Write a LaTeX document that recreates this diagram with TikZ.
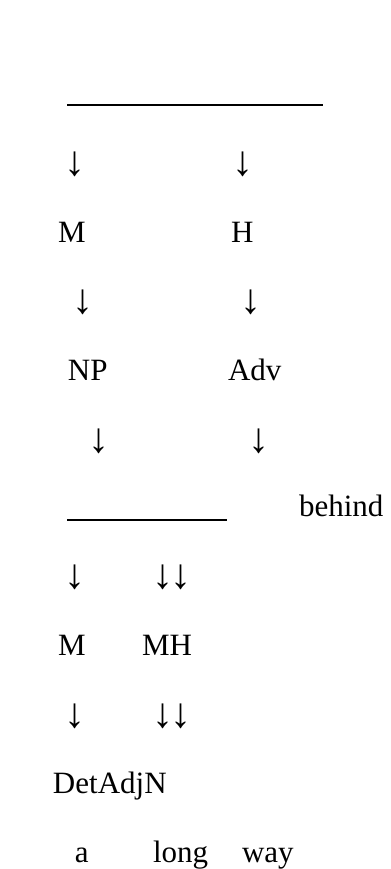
\documentclass[tikz,border=0pt]{standalone}
\usepackage{fontspec}
\setmainfont{Liberation Serif}
\begin{document}
\begin{tikzpicture}[x=0.5pt,y=-0.5pt,
  lbl/.style={anchor=base west,inner sep=0pt,outer sep=0pt,font=\fontsize{15.5}{18}\selectfont},
  arr/.style={anchor=base,inner sep=0pt,outer sep=0pt,font=\fontsize{21}{24}\selectfont},
  rulel/.style={line width=1pt,line cap=butt}]
\useasboundingbox (0,0) rectangle (391,869);
% top rule
\coordinate (l1a) at (67,105);
\coordinate (l1b) at (323,105);
\draw[rulel] (l1a) -- (l1b);
% arrows row 1
\node[arr] (a1l) at (75,175) {↓};
\node[arr] (a1r) at (243,175) {↓};
% M H
\node[lbl] (m1) at (58,242) {M};
\node[lbl] (h1) at (231,242) {H};
% arrows row 2
\node[arr] (a2l) at (83,313) {↓};
\node[arr] (a2r) at (251,313) {↓};
% NP Adv
\node[lbl] (np) at (68,380) {NP};
\node[lbl] (adv) at (228,380) {Adv};
% arrows row 3
\node[arr] (a3l) at (99,452) {↓};
\node[arr] (a3r) at (259,452) {↓};
% second rule and behind
\coordinate (l2a) at (67,520);
\coordinate (l2b) at (227,520);
\draw[rulel] (l2a) -- (l2b);
\node[lbl] (behind) at (299,516) {behind};
% arrows row 4
\node[arr] (a4l) at (75,588) {↓};
\node[arr] (a4r) at (171.5,588) {↓\kern-1.5pt↓};
% M MH
\node[lbl] (m2) at (58,655) {M};
\node[lbl] (mh) at (142,655) {MH};
% arrows row 5
\node[arr] (a5l) at (75,727) {↓};
\node[arr] (a5r) at (171.5,727) {↓\kern-1.5pt↓};
% DetAdjN
\node[lbl] (dan) at (53,793) {DetAdjN};
% a long way
\node[lbl] (wa) at (75,862) {a};
\node[lbl] (wlong) at (153,862) {long};
\node[lbl] (wway) at (242,862) {way};
\end{tikzpicture}
\end{document}
